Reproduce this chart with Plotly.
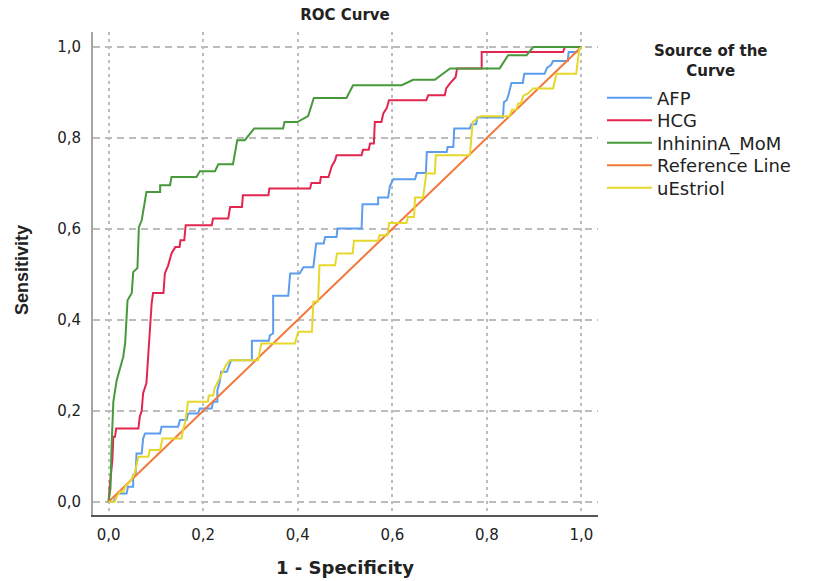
import plotly.graph_objects as go

# ROC curve coordinates (1 - specificity, sensitivity) for each marker
afp_fpr = [0, 0.010, 0.020, 0.038, 0.041, 0.052, 0.052, 0.057, 0.059, 0.070, 0.073, 0.077, 0.109, 0.112,
           0.147, 0.151, 0.165, 0.168, 0.189, 0.193, 0.218, 0.221, 0.230, 0.230, 0.235, 0.238, 0.250, 0.259,
           0.303, 0.303, 0.339, 0.341, 0.348, 0.348, 0.380, 0.384, 0.404, 0.412, 0.433, 0.439, 0.455, 0.458,
           0.482, 0.484, 0.535, 0.537, 0.570, 0.570, 0.591, 0.595, 0.602, 0.648, 0.652, 0.671, 0.673, 0.715,
           0.717, 0.729, 0.731, 0.764, 0.767, 0.777, 0.780, 0.834, 0.836, 0.842, 0.846, 0.852, 0.876, 0.879,
           0.922, 0.927, 0.936, 0.940, 0.971, 0.973, 0.990, 1.0]
afp_tpr = [0, 0.0, 0.018, 0.018, 0.033, 0.033, 0.059, 0.059, 0.106, 0.106, 0.139, 0.150, 0.150, 0.165,
           0.165, 0.180, 0.180, 0.194, 0.194, 0.205, 0.205, 0.220, 0.220, 0.245, 0.264, 0.286, 0.286, 0.311,
           0.311, 0.354, 0.354, 0.366, 0.370, 0.453, 0.453, 0.502, 0.502, 0.516, 0.516, 0.568, 0.568, 0.582,
           0.582, 0.601, 0.601, 0.654, 0.654, 0.669, 0.669, 0.694, 0.709, 0.709, 0.723, 0.723, 0.769, 0.769,
           0.780, 0.780, 0.821, 0.821, 0.830, 0.830, 0.845, 0.845, 0.879, 0.883, 0.896, 0.921, 0.921, 0.941,
           0.941, 0.954, 0.961, 0.969, 0.969, 0.989, 0.989, 1.0]

hcg_fpr = [0, 0.002, 0.008, 0.010, 0.0135, 0.016, 0.063, 0.066, 0.070, 0.073, 0.080, 0.084, 0.087, 0.091,
           0.094, 0.116, 0.119, 0.126, 0.133, 0.141, 0.150, 0.152, 0.160, 0.163, 0.218, 0.221, 0.253, 0.257,
           0.282, 0.284, 0.338, 0.340, 0.426, 0.429, 0.447, 0.449, 0.465, 0.469, 0.472, 0.479, 0.482, 0.535,
           0.538, 0.550, 0.553, 0.561, 0.563, 0.577, 0.581, 0.588, 0.593, 0.672, 0.676, 0.711, 0.714, 0.722,
           0.734, 0.737, 0.789, 0.789, 0.961, 0.965, 1.0]
hcg_tpr = [0, 0.030, 0.092, 0.143, 0.143, 0.161, 0.161, 0.187, 0.200, 0.239, 0.261, 0.334, 0.363, 0.436,
           0.459, 0.459, 0.502, 0.520, 0.546, 0.560, 0.560, 0.575, 0.575, 0.608, 0.608, 0.623, 0.623, 0.648,
           0.648, 0.674, 0.674, 0.689, 0.689, 0.701, 0.701, 0.714, 0.714, 0.729, 0.738, 0.751, 0.762, 0.762,
           0.774, 0.774, 0.788, 0.788, 0.835, 0.835, 0.854, 0.865, 0.883, 0.883, 0.894, 0.894, 0.909, 0.920,
           0.934, 0.953, 0.953, 0.989, 0.989, 1.0, 1.0]

inh_fpr = [0, 0.004, 0.006, 0.010, 0.017, 0.024, 0.031, 0.035, 0.040, 0.049, 0.052, 0.061, 0.064, 0.070,
           0.080, 0.109, 0.109, 0.130, 0.133, 0.186, 0.193, 0.225, 0.232, 0.263, 0.272, 0.288, 0.308, 0.369,
           0.372, 0.399, 0.422, 0.434, 0.503, 0.517, 0.620, 0.644, 0.690, 0.722, 0.827, 0.845, 0.884, 0.898, 1.0]
inh_tpr = [0, 0.030, 0.114, 0.220, 0.267, 0.294, 0.319, 0.349, 0.443, 0.459, 0.505, 0.514, 0.604, 0.619,
           0.681, 0.681, 0.696, 0.696, 0.714, 0.714, 0.727, 0.727, 0.742, 0.742, 0.795, 0.795, 0.821, 0.821,
           0.835, 0.835, 0.848, 0.888, 0.888, 0.916, 0.916, 0.928, 0.928, 0.953, 0.953, 0.982, 0.982, 1.0, 1.0]

ref_fpr = [0, 1]
ref_tpr = [0, 1]

ue_fpr = [0, 0.013, 0.017, 0.024, 0.031, 0.035, 0.045, 0.055, 0.063, 0.084, 0.087, 0.109, 0.114, 0.154,
          0.158, 0.162, 0.168, 0.210, 0.212, 0.221, 0.224, 0.231, 0.241, 0.248, 0.256, 0.316, 0.323, 0.394,
          0.397, 0.401, 0.430, 0.433, 0.443, 0.446, 0.479, 0.483, 0.516, 0.519, 0.570, 0.573, 0.590, 0.593,
          0.630, 0.633, 0.646, 0.648, 0.665, 0.669, 0.672, 0.690, 0.692, 0.764, 0.767, 0.770, 0.787, 0.848,
          0.853, 0.862, 0.866, 0.872, 0.877, 0.887, 0.898, 0.940, 0.944, 0.947, 0.989, 0.992, 0.995, 1.0]
ue_tpr = [0, 0.0, 0.011, 0.022, 0.022, 0.033, 0.044, 0.062, 0.099, 0.099, 0.114, 0.114, 0.139, 0.139,
          0.161, 0.175, 0.220, 0.220, 0.234, 0.234, 0.249, 0.264, 0.286, 0.300, 0.311, 0.311, 0.348, 0.348,
          0.360, 0.374, 0.374, 0.440, 0.440, 0.520, 0.520, 0.546, 0.546, 0.574, 0.574, 0.586, 0.586, 0.613,
          0.613, 0.626, 0.626, 0.669, 0.669, 0.707, 0.722, 0.722, 0.762, 0.762, 0.810, 0.835, 0.848, 0.848,
          0.862, 0.862, 0.876, 0.876, 0.893, 0.898, 0.909, 0.909, 0.927, 0.941, 0.941, 0.975, 0.993, 1.0]

tick_vals = [0.0, 0.2, 0.4, 0.6, 0.8, 1.0]

series = [
    ("AFP", afp_fpr, afp_tpr, "#5d9ded"),
    ("HCG", hcg_fpr, hcg_tpr, "#e2264f"),
    ("InhininA_MoM", inh_fpr, inh_tpr, "#47993b"),
    ("Reference Line", ref_fpr, ref_tpr, "#f4773a"),
    ("uEstriol", ue_fpr, ue_tpr, "#e5d82a"),
]

font_main = "DejaVu Sans, Liberation Sans, Arial, sans-serif"
text_color = "#222222"

# plot area in pixels: left 93, right 598, top 32, bottom 515
PL, PR, PT, PB = 93, 598, 32, 515
PW, PH = PR - PL, PB - PT


def px_x(p):
    return (p - PL) / PW


def px_y(p):
    return (PB - p) / PH


fig = go.Figure()
legend_layouts = {}
for i, (name, xs, ys, color) in enumerate(series):
    key = "legend" if i == 0 else f"legend{i + 1}"
    fig.add_trace(go.Scatter(x=xs, y=ys, mode="lines", name=name,
                             line=dict(color=color, width=2), legend=key))
    # one legend box per entry keeps the rows 22.5 px apart
    legend_layouts[key] = dict(
        x=px_x(602), xanchor="left", y=px_y(98 + 22.5 * i), yanchor="middle",
        font=dict(size=18, family=font_main, color=text_color),
        bgcolor="rgba(0,0,0,0)", itemwidth=45,
    )

fig.update_layout(
    width=819, height=581,
    margin=dict(l=PL, r=819 - PR, t=PT, b=581 - PB),
    paper_bgcolor="white", plot_bgcolor="white",
    separators=",.",
    showlegend=True,
    font=dict(family=font_main, color=text_color),
    title=dict(text="<b>ROC Curve</b>", x=345 / 819, xanchor="center",
               y=1 - 15 / 581, yanchor="middle",
               font=dict(size=15, family=font_main, color=text_color)),
    xaxis=dict(range=[-0.033, 1.035], tickvals=tick_vals, tickformat=".1f",
               showgrid=True, gridcolor="#bdbdbd", gridwidth=1.5, griddash="3px,4px",
               zeroline=False, showline=True, linecolor="#555555", linewidth=2,
               ticks="", ticklabelstandoff=5,
               tickfont=dict(size=15, family=font_main, color=text_color)),
    yaxis=dict(range=[-0.029, 1.033], tickvals=tick_vals, tickformat=".1f",
               showgrid=True, gridcolor="#bdbdbd", gridwidth=1.5, griddash="7px,5px",
               zeroline=False, showline=True, linecolor="#a5a5a5", linewidth=2,
               ticks="", ticklabelstandoff=7,
               tickfont=dict(size=15, family=font_main, color=text_color)),
    **legend_layouts,
)

fig.add_annotation(text="<b>1 - Specificity</b>", xref="paper", yref="paper",
                   x=px_x(345), y=px_y(567), xanchor="center", yanchor="middle",
                   showarrow=False, font=dict(size=18, family=font_main, color=text_color))
fig.add_annotation(text="<b>Sensitivity</b>", xref="paper", yref="paper", textangle=-90,
                   x=px_x(22), y=px_y(270), xanchor="center", yanchor="middle",
                   showarrow=False, font=dict(size=18, family="Liberation Sans, Arial, sans-serif",
                                              color=text_color))
fig.add_annotation(text="<b>Source of the<br>Curve</b>", xref="paper", yref="paper",
                   x=px_x(711), y=px_y(61), xanchor="center", yanchor="middle",
                   showarrow=False, font=dict(size=15, family=font_main, color=text_color))

fig.write_html("out.html")
